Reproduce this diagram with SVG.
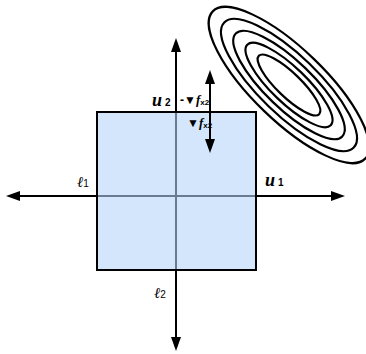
<svg xmlns="http://www.w3.org/2000/svg" width="366" height="354" viewBox="0 0 366 354">
<style>
.ax{stroke:#000;stroke-width:2;fill:none}
.ell{stroke:#000;stroke-width:2.2;fill:none}
.lbl{font-family:"Liberation Serif",serif;font-style:italic;font-weight:bold;fill:#000}
.sub{font-family:"Liberation Sans",Arial,sans-serif;font-weight:bold;fill:#000}
.ell-l{font-family:"DejaVu Serif","Liberation Serif",serif;font-style:italic;fill:#000}
</style>
<defs>
<marker id="ah" viewBox="0 0 14 10" refX="4" refY="5" markerWidth="14" markerHeight="10" orient="auto-start-reverse" markerUnits="userSpaceOnUse">
<path d="M0,0 L14,5 L0,10 Z" fill="#000"/>
</marker>
</defs>
<rect width="366" height="354" fill="#fff"/>
<g id="contours" transform="translate(289,85) rotate(44)">
<ellipse class="ell" rx="106" ry="36"/>
<ellipse class="ell" rx="90" ry="29.5"/>
<ellipse class="ell" rx="74" ry="23.5"/>
<ellipse class="ell" rx="58" ry="17.5"/>
<ellipse class="ell" rx="42" ry="12"/>
</g>
<g id="connectors">
<line class="ax" x1="176" y1="48" x2="176" y2="341" marker-start="url(#ah)" marker-end="url(#ah)"/>
<line class="ax" x1="16" y1="196" x2="335" y2="196" marker-start="url(#ah)" marker-end="url(#ah)"/>
</g>
<g id="square">
<rect x="97" y="112" width="159" height="158" fill="#b4d4fa" fill-opacity="0.58" stroke="#000" stroke-width="2"/>
</g>
<g id="gradient">
<line class="ax" x1="210" y1="80" x2="210" y2="143" marker-start="url(#ah)" marker-end="url(#ah)"/>
</g>
<g id="labels">
<text class="lbl" x="152" y="106" font-size="18">u<tspan class="sub" font-style="normal" font-size="10" dx="3">2</tspan></text>
<text class="sub" x="180" y="104" font-size="12">-▼<tspan class="lbl" font-size="13">f</tspan><tspan font-size="8" dy="1">x2</tspan></text>
<text class="sub" x="187" y="127" font-size="12">▼<tspan class="lbl" font-size="13">f</tspan><tspan font-size="8" dy="1">x2</tspan></text>
<text class="lbl" x="265" y="186" font-size="18">u<tspan class="sub" font-style="normal" font-size="10" dx="3">1</tspan></text>
<text class="ell-l" x="77" y="187" font-size="15">ℓ<tspan font-style="normal" font-family="Liberation Sans,sans-serif" font-size="10">1</tspan></text>
<text class="ell-l" x="154" y="298" font-size="15">ℓ<tspan font-style="normal" font-family="Liberation Sans,sans-serif" font-size="10">2</tspan></text>
</g>
</svg>
